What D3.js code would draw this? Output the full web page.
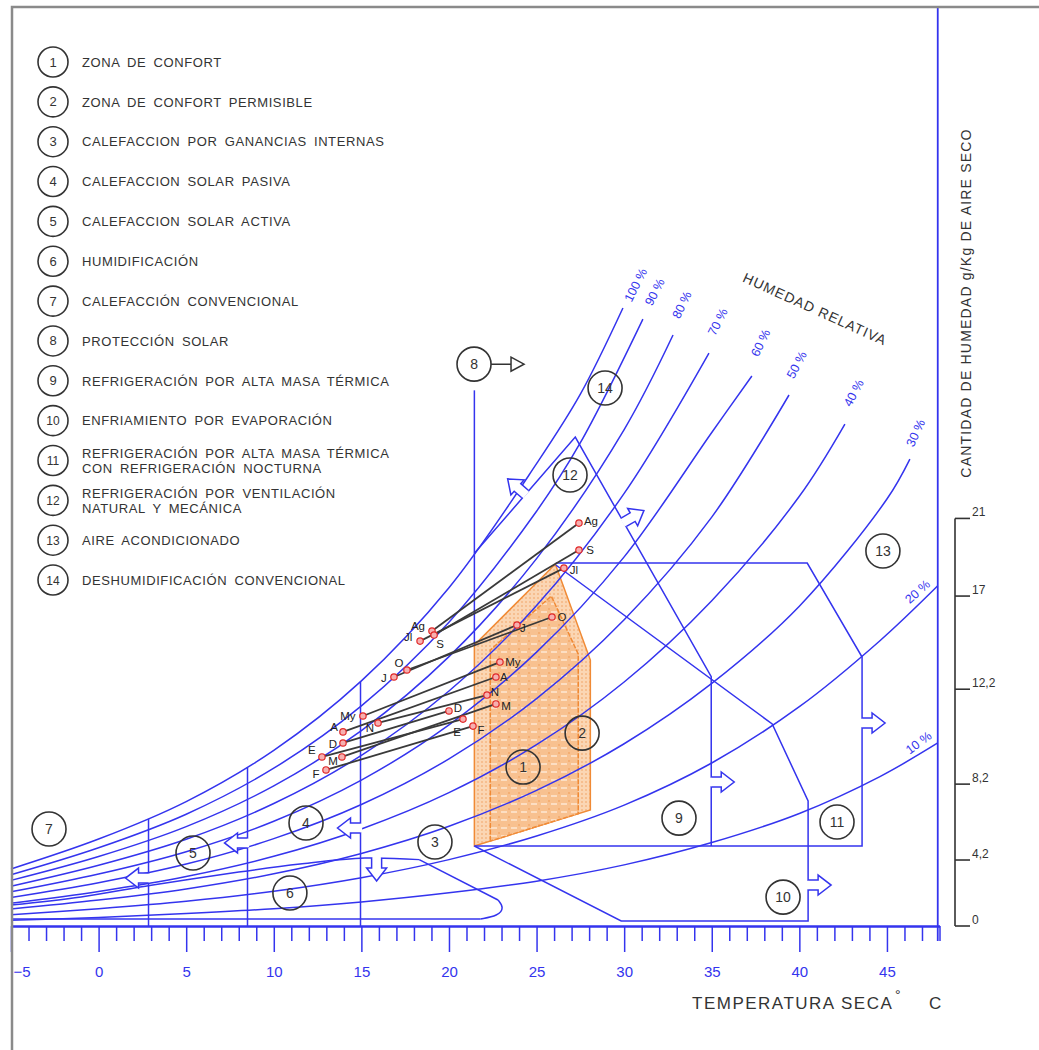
<!DOCTYPE html>
<html lang="es">
<head>
  <meta charset="UTF-8">
  <title>Carta bioclimática</title>
  <script src="https://d3js.org/d3.v7.min.js"></script>
  <style>
    body { margin: 0; background: #fff; }
    svg text { font-family: "Liberation Sans", Arial, sans-serif; }
  </style>
</head>
<body>
  <div id="chart"></div>
  <script>
    // curvas de humedad relativa: [temperatura °C, humedad]
    const rh100 = [[-5,2.94],[0,4.48],[5,6.41],[10,9.05],[15,12.63],[20,17.43],[25,23.82],[27.5,27.4],[29.93,31.84]];
    const rh90  = [[-5,2.64],[0,4.03],[5,5.76],[10,8.13],[15,11.34],[20,15.65],[25,21.37],[27.5,24.9],[31.07,31.27]];
    const rh80  = [[-5,2.35],[0,3.58],[5,5.12],[10,7.22],[15,10.07],[20,13.88],[25,18.93],[30,25.58],[32.79,30.45]];
    const rh70  = [[-5,2.05],[0,3.13],[5,4.47],[10,6.31],[15,8.79],[20,12.11],[25,16.51],[30,22.29],[34.84,29.52]];
    const rh60  = [[-5,1.76],[0,2.68],[5,3.83],[10,5.40],[15,7.52],[20,10.36],[25,14.11],[30,19.02],[35,25.43],[37.29,28.34]];
    const rh50  = [[-5,1.47],[0,2.23],[5,3.19],[10,4.50],[15,6.26],[20,8.61],[25,11.72],[30,15.78],[35,21.07],[39.41,27.36]];
    const rh40  = [[-5,1.17],[0,1.78],[5,2.55],[10,3.59],[15,5.00],[20,6.87],[25,9.34],[30,12.57],[35,16.76],[40,22.14],[42.6,25.86]];
    const rh30  = [[-5,0.88],[0,1.34],[5,1.91],[10,2.69],[15,3.74],[20,5.14],[25,6.99],[30,9.39],[35,12.50],[40,16.48],[45,22.0],[46.31,24.06]];
    const rh20  = [[-5,0.58],[0,0.89],[5,1.27],[10,1.79],[15,2.49],[20,3.42],[25,4.64],[30,6.23],[35,8.4],[40,11.3],[44.6,14.7],[47.9,17.53]];
    const rh10  = [[-5,0.29],[0,0.44],[5,0.64],[10,0.89],[15,1.24],[20,1.71],[25,2.31],[30,3.15],[35,4.3],[40,5.8],[44.6,7.7],[47.9,9.43]];
    const rhCurves = [rh100, rh90, rh80, rh70, rh60, rh50, rh40, rh30, rh20, rh10];
    const rhNames = ["100 %", "90 %", "80 %", "70 %", "60 %", "50 %", "40 %", "30 %", "20 %", "10 %"];

    // zonas
    const zone2 = [[21.45,4.12],[21.45,14.48],[26.07,18.65],[28.07,13.70],[28.07,5.98]];
    const zone1 = [[22.36,4.38],[22.36,14.22],[25.84,17.00],[27.38,14.01],[27.38,5.79]];
    const zone8Line = [[21.45,27.6],[21.45,14.48]];
    const zone13Line = [[26.1,18.7],[40.45,18.7],[43.58,13.86],[43.58,4.12],[21.45,4.12]];
    const zone12Line = [[21.45,19.2],[27.21,25.19],[34.97,12.85],[34.97,4.12]];
    const zone10Line = [[26.1,18.6],[38.45,10.41],[40.5,6.44],[40.5,0.26],[29.83,0.26],[21.45,4.12]];
    const zone6Top = [[-5,1.08],[-1,1.5],[3,2.1],[8,2.78],[11.5,3.19],[15.2,3.5],[18.3,3.42]];
    const zone6Side = [[18.3,3.42],[22.8,1.34]];
    const zone6End = [[22.8,1.34],[23.15,0.95],[22.8,0.52],[21.8,0.36]];
    const zone6Bottom = [[21.8,0.36],[-5,0.36]];
    const heatTemps = [2.85, 8.5, 14.95];      // zonas 7, 5, 4
    const heatTops = [5.52, 8.16, 12.59];

    // meses: mínimas y máximas
    const months = ["Ag","S","Jl","O","J","My","A","N","D","E","M","F"];
    const tMin = [19.03, 19.15, 18.35, 17.60, 16.86, 15.09, 13.95, 15.95, 13.95, 12.75, 13.89, 12.98];
    const wMin = [15.20, 14.99, 14.68, 13.19, 12.83, 10.82, 10.00, 10.46, 9.43, 8.71, 8.71, 8.04];
    const tMax = [27.42, 27.42, 26.56, 25.88, 23.88, 22.91, 22.68, 22.17, 20.0, 20.8, 22.68, 21.37];
    const wMax = [20.76, 19.37, 18.44, 15.92, 15.51, 13.60, 12.83, 11.90, 11.08, 10.66, 11.44, 10.30];

    // ejes
    const majorTicks = [-5, 0, 5, 10, 15, 20, 25, 30, 35, 40, 45];
    const minorTicks = d3.range(-4, 49).filter(d => d % 5 !== 0);
    const rightTickPos = [0, 3.4, 7.31, 12.2, 17, 21];
    const rightTickLabels = ["0", "4,2", "8,2", "12,2", "17", "21"];

    const legendTexts = [
      ["ZONA DE CONFORT"],
      ["ZONA DE CONFORT PERMISIBLE"],
      ["CALEFACCION POR GANANCIAS INTERNAS"],
      ["CALEFACCION SOLAR PASIVA"],
      ["CALEFACCION SOLAR ACTIVA"],
      ["HUMIDIFICACIÓN"],
      ["CALEFACCIÓN CONVENCIONAL"],
      ["PROTECCIÓN SOLAR"],
      ["REFRIGERACIÓN POR ALTA MASA TÉRMICA"],
      ["ENFRIAMIENTO POR EVAPORACIÓN"],
      ["REFRIGERACIÓN POR ALTA MASA TÉRMICA", "CON REFRIGERACIÓN NOCTURNA"],
      ["REFRIGERACIÓN POR VENTILACIÓN", "NATURAL Y MECÁNICA"],
      ["AIRE ACONDICIONADO"],
      ["DESHUMIDIFICACIÓN CONVENCIONAL"]
    ];

    // posiciones de los círculos numerados (en unidades del gráfico)
    const zoneCircles = [
      [1, 24.23, 8.19], [2, 27.6, 9.94], [3, 19.2, 4.33], [4, 11.84, 5.31],
      [5, 5.39, 3.76], [6, 10.92, 1.70], [7, -2.83, 5.0], [8, 21.43, 28.95],
      [9, 33.13, 5.56], [10, 39.07, 1.49], [11, 42.15, 5.36], [12, 26.91, 23.24],
      [13, 44.77, 19.32], [14, 28.91, 27.72]
    ];
    // flechas huecas: [T, humedad, ángulo]
    const arrowMarks = [
      [2.85, 2.47, 180], [8.5, 4.28, 180], [14.95, 5.05, 180], [15.87, 3.5, 90],
      [34.97, 7.42, 0], [43.58, 10.46, 0], [40.5, 2.11, 0],
      [29.99, 20.81, -30], [24.34, 22.26, -139]
    ];
    // desplazamiento de etiquetas (px)
    const rhLabelPos = [[13,-23,-63],[12,-27,-63],[9,-30,-64],[9,-31,-63],[9,-33,-64],[8,-30,-62],[9,-31,-62],[6,-26,-65],[-20,6,-42],[-19,0,-37]];
    const minOff = {Ag:[-14,-5], S:[6,9], Jl:[-12,-4], O:[-8,-7], J:[-10,1], My:[-15,0], A:[-9,-5], N:[-8,5], D:[-10,1], E:[-10,-7], M:[-9,4], F:[-10,4]};
    const maxOff = {Ag:[12,-2], S:[11,0], Jl:[10,2], O:[10,0], J:[6,3], My:[13,0], A:[8,0], N:[8,-3], D:[9,-3], E:[-6,13], M:[10,2], F:[8,4]};

    const blue = "#3434ee", ink = "#333";
    const width = 1039, height = 1050;

    const svg = d3.select("#chart").append("svg")
      .attr("width", width).attr("height", height);

    const x = d3.scaleLinear().domain([-5, 48]).range([11, 939.5]);
    const y = d3.scaleLinear().domain([0, 47.3]).range([926, 8]);

    // tramas de la zona de confort
    const defs = svg.append("defs");
    const p2 = defs.append("pattern").attr("id", "dots").attr("patternUnits", "userSpaceOnUse")
      .attr("width", 4).attr("height", 4);
    p2.append("rect").attr("width", 4).attr("height", 4).attr("fill", "#fbd6b4");
    p2.append("circle").attr("cx", 2).attr("cy", 2).attr("r", 0.8).attr("fill", "#f0a060");
    const p1 = defs.append("pattern").attr("id", "grid").attr("patternUnits", "userSpaceOnUse")
      .attr("width", 10).attr("height", 8);
    p1.append("rect").attr("width", 10).attr("height", 8).attr("fill", "#f8c190");
    p1.append("line").attr("x1", 1).attr("x2", 7).attr("y1", 4).attr("y2", 4)
      .attr("stroke", "#fff3e6").attr("stroke-width", 1.2);
    p1.append("circle").attr("cx", 9).attr("cy", 1).attr("r", 0.8).attr("fill", "#ef9850");

    const straight = d3.line().x(d => x(d[0])).y(d => y(d[1]));
    const smooth = d3.line().x(d => x(d[0])).y(d => y(d[1])).curve(d3.curveCatmullRom.alpha(0.5));
    const rounded = d3.line().x(d => x(d[0])).y(d => y(d[1])).curve(d3.curveBasis);

    svg.append("path").attr("d", straight(zone2) + "Z")
      .attr("fill", "url(#dots)").attr("stroke", "#f08a35").attr("stroke-width", 1.5);
    svg.append("path").attr("d", straight(zone1) + "Z")
      .attr("fill", "url(#grid)").attr("stroke", "#f08a35").attr("stroke-width", 1.5)
      .attr("stroke-dasharray", "5,1.5");

    // curvas HR
    svg.append("g").selectAll("path").data(rhCurves).join("path")
      .attr("d", smooth).attr("fill", "none").attr("stroke", blue).attr("stroke-width", 1.5);

    svg.append("g").selectAll("text").data(rhCurves).join("text")
      .attr("transform", (d, i) => {
        const e = d[d.length - 1], o = rhLabelPos[i];
        return `translate(${x(e[0]) + o[0]},${y(e[1]) + o[1]}) rotate(${o[2]})`;
      })
      .attr("text-anchor", "middle").attr("dominant-baseline", "central")
      .attr("fill", blue).style("font-size", "12.5px")
      .text((d, i) => rhNames[i]);

    // líneas de zonas
    const zoneG = svg.append("g").attr("fill", "none").attr("stroke", blue).attr("stroke-width", 1.5);
    [zone8Line, zone13Line, zone12Line, zone10Line, zone6Side, zone6Bottom]
      .forEach(z => zoneG.append("path").attr("d", straight(z)));
    zoneG.append("path").attr("d", smooth(zone6Top));
    zoneG.append("path").attr("d", rounded(zone6End));
    heatTemps.forEach((t, i) => zoneG.append("path").attr("d", straight([[t, heatTops[i]], [t, 0]])));

    // flechas
    arrowMarks.forEach(([t, w, ang]) => {
      const w1 = 5, w2 = 10, l1 = 10, l = 23;
      const a = svg.append("g").attr("transform", `translate(${x(t)},${y(w)}) rotate(${ang})`);
      a.append("rect").attr("x", -1.6).attr("y", -w1 + 0.8).attr("width", 3.2).attr("height", 2 * w1 - 1.6)
        .attr("fill", "#fff");
      a.append("path")
        .attr("d", `M0,${-w1}L${l1},${-w1}L${l1},${-w2}L${l},0L${l1},${w2}L${l1},${w1}L0,${w1}`)
        .attr("fill", "#fff").attr("stroke", blue).attr("stroke-width", 1.5);
    });

    // eje X
    const axG = svg.append("g").attr("transform", `translate(0,${y(0)})`);
    axG.call(d3.axisBottom(x).tickValues(minorTicks).tickSize(15).tickSizeOuter(0).tickFormat(""));
    axG.call(g => g.selectAll(".tick line").attr("stroke", blue).attr("stroke-width", 1.5));
    const axMajor = svg.append("g").attr("transform", `translate(0,${y(0)})`)
      .call(d3.axisBottom(x).tickValues(majorTicks).tickSize(26).tickSizeOuter(0).tickPadding(14));
    axMajor.selectAll(".tick line").attr("stroke", blue).attr("stroke-width", 1.5);
    axMajor.selectAll(".tick text").attr("fill", blue).style("font-size", "15px")
      .style("font-family", "'Liberation Sans', Arial, sans-serif");
    axMajor.selectAll(".tick").filter(d => d === -5).select("text").attr("text-anchor", "start").attr("x", 2);
    svg.selectAll(".domain").attr("stroke", blue).attr("stroke-width", 1.8);

    // borde derecho del gráfico
    svg.append("line").attr("x1", x(47.9)).attr("x2", x(47.9)).attr("y1", y(47.3)).attr("y2", y(0) + 15)
      .attr("stroke", blue).attr("stroke-width", 1.8);

    // meses
    const mg = svg.append("g");
    months.forEach((m, i) => {
      mg.append("line").attr("x1", x(tMin[i])).attr("y1", y(wMin[i]))
        .attr("x2", x(tMax[i])).attr("y2", y(wMax[i]))
        .attr("stroke", "#3a3a3a").attr("stroke-width", 1.8);
    });
    months.forEach((m, i) => {
      [[tMin[i], wMin[i], minOff[m]], [tMax[i], wMax[i], maxOff[m]]].forEach(([t, w, o]) => {
        mg.append("circle").attr("cx", x(t)).attr("cy", y(w)).attr("r", 3.2)
          .attr("fill", "#f6b0b0").attr("stroke", "#e02828").attr("stroke-width", 1.2);
        mg.append("text").attr("x", x(t) + o[0]).attr("y", y(w) + o[1])
          .attr("text-anchor", "middle").attr("dominant-baseline", "central")
          .attr("fill", "#222").style("font-size", "11.5px").text(m);
      });
    });

    // círculos numerados en el gráfico
    const cg = svg.append("g");
    zoneCircles.forEach(([n, t, w]) => {
      cg.append("circle").attr("cx", x(t)).attr("cy", y(w)).attr("r", 17)
        .attr("fill", "none").attr("stroke", ink).attr("stroke-width", 1.6);
      cg.append("text").attr("x", x(t)).attr("y", y(w) + 5).attr("text-anchor", "middle")
        .attr("fill", ink).style("font-size", "14px").text(n);
    });
    // flecha de protección solar
    const c8 = zoneCircles[7];
    const ax8 = x(c8[1]), ay8 = y(c8[2]);
    cg.append("path").attr("d", `M${ax8 + 17},${ay8}H${ax8 + 37}M${ax8 + 37},${ay8 - 7}L${ax8 + 50},${ay8}L${ax8 + 37},${ay8 + 7}Z`)
      .attr("fill", "none").attr("stroke", ink).attr("stroke-width", 1.5);

    // eje derecho
    const rg = svg.append("g").attr("stroke", ink).attr("stroke-width", 1.6);
    rg.append("line").attr("x1", 955).attr("x2", 955).attr("y1", y(21)).attr("y2", y(0));
    rightTickPos.forEach((v, i) => {
      rg.append("line").attr("x1", 955).attr("x2", 970).attr("y1", y(v)).attr("y2", y(v));
      svg.append("text").attr("x", 972).attr("y", y(v) - 2).attr("fill", ink)
        .style("font-size", "12px").text(rightTickLabels[i]);
    });

    // títulos
    svg.append("text").attr("transform", "translate(966,303) rotate(-90)")
      .attr("text-anchor", "middle").attr("dominant-baseline", "central")
      .attr("fill", ink).style("font-size", "14px").style("letter-spacing", "1.2px")
      .text("CANTIDAD DE HUMEDAD g/Kg DE AIRE SECO");
    svg.append("text").attr("transform", "translate(815,309) rotate(24.4)")
      .attr("text-anchor", "middle").attr("dominant-baseline", "central")
      .attr("fill", ink).style("font-size", "14px").style("letter-spacing", "1px")
      .text("HUMEDAD RELATIVA");
    svg.append("text").attr("x", 692).attr("y", 1009).attr("fill", ink)
      .style("font-size", "17px").style("letter-spacing", "1.5px").text("TEMPERATURA SECA");
    svg.append("text").attr("x", 895).attr("y", 1000).attr("fill", ink)
      .style("font-size", "14px").text("°");
    svg.append("text").attr("x", 929).attr("y", 1009).attr("fill", ink)
      .style("font-size", "17px").text("C");

    // leyenda
    const lg = svg.append("g");
    legendTexts.forEach((lines, i) => {
      const cy = 62 + i * 39.85;
      lg.append("circle").attr("cx", 53).attr("cy", cy).attr("r", 15)
        .attr("fill", "none").attr("stroke", ink).attr("stroke-width", 1.6);
      lg.append("text").attr("x", 53).attr("y", cy + 4.5).attr("text-anchor", "middle")
        .attr("fill", ink).style("font-size", i >= 9 ? "12px" : "13px").text(i + 1);
      lines.forEach((t, j) => {
        const ty = lines.length === 1 ? cy : cy - 7.5 + j * 15;
        lg.append("text").attr("x", 82).attr("y", ty + 4.7).attr("fill", ink)
          .style("font-size", "13px").style("letter-spacing", "0.6px").style("word-spacing", "3px")
          .text(t);
      });
    });

    // marco
    svg.append("path").attr("d", "M12,1050V7H1039")
      .attr("fill", "none").attr("stroke", "#8a8a8a").attr("stroke-width", 2.5);
  </script>
</body>
</html>
